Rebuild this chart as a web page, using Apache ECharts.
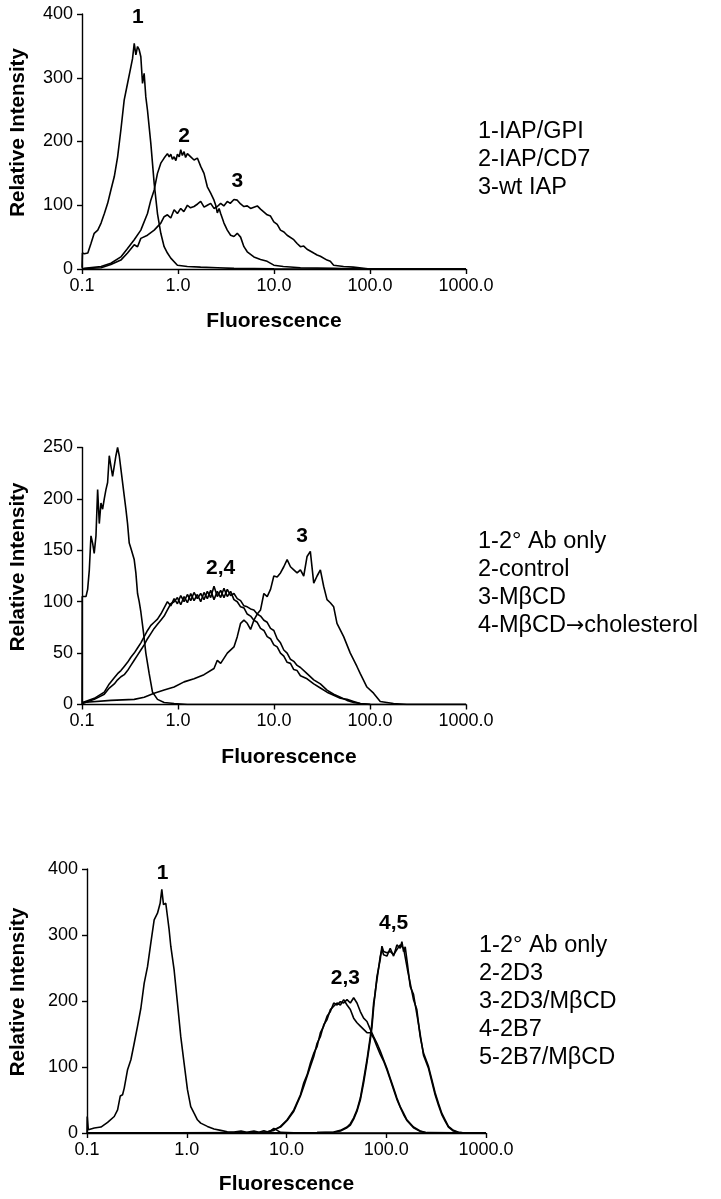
<!DOCTYPE html>
<html><head><meta charset="utf-8">
<script src="https://cdn.jsdelivr.net/npm/echarts@6/dist/echarts.min.js"></script>
<style>html,body{margin:0;padding:0;background:#fff}#c{width:721px;height:1199px}</style>
</head><body><div id="c"></div>
<script>
// ---------- Panel 1 data (fluorescence, relative intensity) ----------
const p1_gpi = [[0.1,2],[0.101,25],[0.106,24],[0.115,25],[0.124,40],[0.134,56],[0.146,61],[0.158,72],[0.171,87],[0.185,103],[0.2,124],[0.217,145],[0.235,176],[0.254,218],[0.275,265],[0.298,291],[0.323,317],[0.336,330],[0.35,354],[0.364,336],[0.379,349],[0.394,344],[0.41,333],[0.427,291],[0.444,307],[0.462,270],[0.481,249],[0.521,197],[0.565,134],[0.611,87],[0.662,56],[0.717,35],[0.776,25],[0.841,17],[0.986,6],[1.25,4],[1.72,3],[2.57,2],[3.83,1],[10,0.5],[100,0],[1000,0]];
const p1_cd7 = [[0.1,0],[0.106,1],[0.158,4],[0.2,9],[0.254,19],[0.298,32],[0.35,46],[0.41,61],[0.481,87],[0.521,108],[0.565,124],[0.611,150],[0.662,166],[0.717,174],[0.776,181],[0.81,176],[0.841,180],[0.875,172],[0.911,176],[0.95,170],[0.986,180],[1.03,176],[1.068,187],[1.11,178],[1.157,184],[1.2,175],[1.253,181],[1.357,176],[1.469,171],[1.591,174],[1.724,161],[1.866,150],[2.021,129],[2.19,119],[2.371,108],[2.47,100],[2.568,88],[2.68,95],[2.782,87],[3.012,72],[3.262,61],[3.533,53],[3.826,51],[4.143,56],[4.487,50],[4.861,35],[5.263,27],[6.173,19],[7.239,15],[8.49,12],[9.96,6],[12.5,4],[18.85,2],[41.8,1],[79,0],[1000,0]];
const p1_wt = [[0.1,0],[0.106,0.5],[0.158,2],[0.2,7],[0.254,14],[0.298,25],[0.35,38],[0.379,35],[0.41,48],[0.481,53],[0.565,61],[0.662,72],[0.717,82],[0.776,85],[0.841,80],[0.911,93],[0.986,87],[1.068,95],[1.15,90],[1.253,100],[1.35,96],[1.469,98],[1.6,102],[1.724,106],[1.87,97],[2.021,100],[2.19,103],[2.371,95],[2.568,98],[2.782,103],[3.0,99],[3.262,106],[3.5,103],[3.826,109],[4.143,108],[4.487,102],[4.86,98],[5.263,99],[5.7,95],[6.173,97],[6.7,99],[7.239,94],[8.49,85],[9.2,83],[9.96,74],[10.8,70],[11.68,61],[12.7,58],[13.7,53],[16.07,46],[17.4,40],[18.85,35],[20.4,36],[22.1,31],[25.9,25],[28.1,22],[30.4,20],[35.7,14],[38.6,12],[41.8,6],[53,4],[67,3],[95,0.5],[1000,0]];
const p1_labels = [[0.382,395,'1'],[1.157,208,'2'],[4.14,137,'3']];
const p1_legend = ['1-IAP/GPI','2-IAP/CD7','3-wt IAP'];

// ---------- Panel 2 data ----------
const p2_ab = [[0.1,0],[0.1005,105],[0.11,105],[0.1145,112],[0.1192,131],[0.124,164],[0.129,157],[0.134,147],[0.1398,164],[0.1455,209],[0.1514,176],[0.1576,196],[0.164,190],[0.1706,200],[0.1776,209],[0.1848,216],[0.1923,242],[0.2001,232],[0.2083,222],[0.2168,232],[0.2256,242],[0.2348,250],[0.2444,242],[0.2543,229],[0.2754,203],[0.2866,190],[0.2982,176],[0.3104,157],[0.323,152],[0.3498,141],[0.364,128],[0.3789,108],[0.3943,100],[0.4103,90],[0.4372,70],[0.4624,50],[0.5011,30],[0.5424,12],[0.6114,5],[0.7171,2],[0.9107,1],[1.253,0],[1000,0]];
const p2_x = [0.1016,0.1343,0.1706,0.1923,0.2168,0.2348,0.2543,0.2754,0.2982,0.323,0.3498,0.3789,0.4103,0.4444,0.4813,0.5212,0.5645,0.6114,0.6622,0.7171,0.7762,0.841,0.9107,0.9861,1.068,1.157,1.253,1.357,1.469,1.591,1.724,1.866,2.021,2.19,2.371,2.568,2.782,3.012,3.262,3.533,3.826,4.143,4.487,4.861,5.263,5.7,6.173,6.685,7.239,7.842,8.492,9.2,9.96,10.79,11.68,12.65,13.7,14.84,16.07,17.41,18.85,22.11,25.94,30.41,35.67,41.84,49.09,57.6,67.5,79.18,100.6];
const p2_control = [2,6,12,20,26,30,33,37,41,46,50,55,60,66,72,77,80,83,88,94,100,96,103,98,106,100,107,101,109,103,108,102,110,104,115,105,111,104,112,106,108,103,101,96,95,93,92,88,86,82,80,74,72,64,60,53,50,44,42,38,36,30,24,20,14,10,7,4,2,1,0];
const p2_chol = [1,5,10,16,20,24,27,29,33,38,43,48,53,58,64,69,74,78,82,86,92,98,100,104,97,105,99,108,101,107,100,109,103,111,102,110,104,113,105,110,102,100,95,94,88,86,82,80,74,72,66,64,58,56,50,47,41,40,34,33,28,25,20,16,12,9,6,5,3,1,0];
const p2_mbcd = [[0.1016,2],[0.2001,4],[0.3498,5],[0.4444,7],[0.5645,11],[0.7171,14],[0.9107,17],[1.157,22],[1.469,25],[1.866,29],[2.371,35],[2.568,43],[2.782,40],[3.262,50],[3.826,56],[4.143,66],[4.487,79],[4.861,82],[5.263,79],[5.7,73],[6.173,82],[6.685,88],[7.239,92],[7.842,108],[8.492,105],[9.2,112],[9.96,125],[10.79,124],[11.68,128],[12.65,134],[13.7,141],[14.84,134],[16.07,131],[17.41,128],[18.85,131],[20.4,125],[22.11,144],[23.9,149],[25.94,118],[28.1,125],[30.41,131],[32.9,115],[35.67,102],[38.6,99],[41.84,95],[45.3,79],[53.16,66],[62.33,50],[73.1,37],[79.18,30],[92.9,17],[108.9,11],[127.8,3],[175.8,1],[241.8,0],[1000,0]];
const p2_labels = [[0.2256,266,'1'],[2.78,133,'2,4'],[19.62,164,'3']];
const p2_legend = ['1-2\u00B0 Ab only','2-control','3-M\u03B2CD','4-M\u03B2CD{a|\u2192}cholesterol'];

// ---------- Panel 3 data ----------
const p3_ab = [[0.1,0],[0.1005,25],[0.1031,5],[0.1184,7.5],[0.138,9],[0.1609,16],[0.1876,25],[0.2026,35],[0.2154,56],[0.2273,58],[0.2362,68],[0.2551,96],[0.2754,111],[0.2974,136],[0.3212,162],[0.3467,189],[0.3745,227],[0.4044,252],[0.4365,288],[0.4713,323],[0.5089,333],[0.5411,348],[0.5623,369],[0.5845,346],[0.6166,348],[0.6408,328],[0.6658,308],[0.6918,283],[0.7471,247],[0.8068,197],[0.871,146],[0.905,126],[0.9404,106],[1.0155,66],[1.0965,40],[1.184,30],[1.279,20],[1.38,15],[1.61,10],[1.876,6],[2.188,4],[2.551,2],[2.974,1.5],[3.5,3],[4.0,1],[4.713,3],[5.3,1],[5.933,3.5],[6.6,1],[7.47,7],[8.71,1],[13.8,0],[1000,0]];
const p3_x23 = [0.1,5.5,6.41,7.47,8.71,10.15,11.84,13.8,14.91,16.09,17.38,18.77,20.26,21.88,23.63,25.51,27.54,29.74,32.12,34.67,37.44,40.44,43.65,47.13,50.89,54.95,59.33,64.08,69.18,74.7,80.66,87.1,94.04,101.5,109.6,118.4,127.8,138,149.1,160.9,187.6,218.8,255.1,1000];
const p3_2d3 = [0,0.5,2,4,10,20,35,58,76,88,106,121,131,152,162,177,184,197,194,199,197,202,197,205,197,184,174,169,157,146,136,124,111,98,83,68,53,40,30,20,9,3,0.5,0];
const p3_2d3m = [0,0.5,1.5,5,9,19,33,56,71,86,101,116,136,146,164,172,187,192,197,194,202,194,187,174,167,162,157,152,152,144,131,119,109,96,81,66,51,39,28,19,8,2.5,0,0];
const p3_x45 = [0.1,20.26,29.74,34.67,40.44,43.65,47.13,50.89,54.95,59.33,64.08,69.18,71.89,74.7,77.62,80.66,87.1,90.5,94.04,101.5,109.6,118.4,127.8,138,143.5,149.1,154.9,163.4,173.8,187.6,202.6,218.8,236.3,265.1,286.2,309,333.7,360.3,389,420.1,471.3,528.8,616.6,1000];
const p3_2b7 = [0,0.5,1.5,4,9,14,23,35,53,81,111,146,167,197,212,237,263,283,275,273,275,270,278,285,288,280,278,247,227,202,187,146,121,101,81,61,45,30,20,10,4,1,0,0];
const p3_2b7m = [0,0.5,1,3,8,12,21,33,50,76,107,141,160,190,215,232,268,278,270,268,280,268,285,280,290,275,282,255,222,210,180,150,118,98,78,58,42,28,18,9,3,1,0,0];
const p3_labels = [[0.571,394,'1'],[38.9,235,'2,3'],[118.4,318,'4,5']];
const p3_legend = ['1-2\u00B0 Ab only','2-2D3','3-2D3/M\u03B2CD','4-2B7','5-2B7/M\u03B2CD'];

const xTickLabels = ['0.1','1.0','10.0','100.0','1000.0'];

// ---------- chart ----------
const FONT = '"Liberation Sans", Arial, Helvetica, sans-serif';
const zip = (xs, ys) => xs.map((x, i) => [x, ys[i]]);

function xAx(gi, gap, shift) {
  return {
    gridIndex: gi, type: 'log', logBase: 10, min: 0.1, max: 1000,
    axisLine: {show: true, lineStyle: {color: '#000', width: 1.4}},
    axisTick: {show: true, length: 5, lineStyle: {color: '#000', width: 1.4}},
    minorTick: {show: false}, splitLine: {show: false}, minorSplitLine: {show: false},
    axisLabel: {color: '#000', fontSize: 18, fontFamily: FONT, margin: 8, showMinLabel: true, showMaxLabel: true,
      formatter: v => { const i = Math.round(Math.log10(v)) + 1; return xTickLabels[i] !== undefined ? xTickLabels[i] : ''; }},
    name: 'Fluorescence', nameLocation: 'middle', nameGap: gap,
    nameTextStyle: {color: '#000', fontSize: 21, fontWeight: 'bold', fontFamily: FONT, padding: [0, 0, 0, shift]}
  };
}
function yAx(gi, max, interval, gap) {
  return {
    gridIndex: gi, type: 'value', min: 0, max: max, interval: interval,
    axisLine: {show: true, lineStyle: {color: '#000', width: 1.4}},
    axisTick: {show: true, length: 5, lineStyle: {color: '#000', width: 1.4}},
    splitLine: {show: false},
    axisLabel: {color: '#000', fontSize: 18, fontFamily: FONT, margin: 9},
    name: 'Relative Intensity', nameLocation: 'middle', nameGap: gap, nameRotate: 90,
    nameTextStyle: {color: '#000', fontSize: 20.5, fontWeight: 'bold', fontFamily: FONT, padding: [0, 0, 0, 18]}
  };
}
function line(gi, data) {
  return {type: 'line', xAxisIndex: gi, yAxisIndex: gi, data: data, showSymbol: false, symbol: 'none',
    lineStyle: {color: '#000', width: 1.6}, clip: true, animation: false, silent: true};
}
function ann(gi, data) {
  return {type: 'scatter', xAxisIndex: gi, yAxisIndex: gi, data: data, symbolSize: 0,
    itemStyle: {color: '#000', opacity: 1}, animation: false, silent: true,
    label: {show: true, position: 'inside', formatter: p => p.data[2], color: '#000', opacity: 1,
      textBorderWidth: 0, fontSize: 21, fontWeight: 'bold', fontFamily: FONT}};
}
function legendTexts(items, x, y0, step) {
  return items.map((t, i) => ({type: 'text', x: x, y: y0 + i * step,
    style: {text: t, fill: '#000', fontSize: 23.5, fontFamily: FONT, verticalAlign: 'middle', align: 'left',
      rich: {a: {fontFamily: '"DejaVu Sans", sans-serif', fontSize: 22, fill: '#000'}}}}));
}

const chart = echarts.init(document.getElementById('c'), null, {renderer: 'canvas'});
chart.setOption({
  backgroundColor: '#fff',
  animation: false,
  grid: [
    {left: 81, top: 14, width: 385, height: 255},
    {left: 81, top: 447.5, width: 385, height: 257},
    {left: 86, top: 869, width: 400, height: 264}
  ],
  xAxis: [xAx(0, 42, 0), xAx(1, 42, 30), xAx(2, 41, 0)],
  yAxis: [yAx(0, 400, 100, 53), yAx(1, 250, 50, 53), yAx(2, 400, 100, 58)],
  series: [
    line(0, p1_gpi), line(0, p1_cd7), line(0, p1_wt), ann(0, p1_labels),
    line(1, p2_ab), line(1, zip(p2_x, p2_control)), line(1, p2_mbcd), line(1, zip(p2_x, p2_chol)), ann(1, p2_labels),
    line(2, p3_ab), line(2, zip(p3_x23, p3_2d3)), line(2, zip(p3_x23, p3_2d3m)),
    line(2, zip(p3_x45, p3_2b7)), line(2, zip(p3_x45, p3_2b7m)), ann(2, p3_labels)
  ],
  graphic: [].concat(
    legendTexts(p1_legend, 478, 132, 28),
    legendTexts(p2_legend, 478, 542, 28),
    legendTexts(p3_legend, 479, 946, 28)
  )
});
</script>
</body></html>
